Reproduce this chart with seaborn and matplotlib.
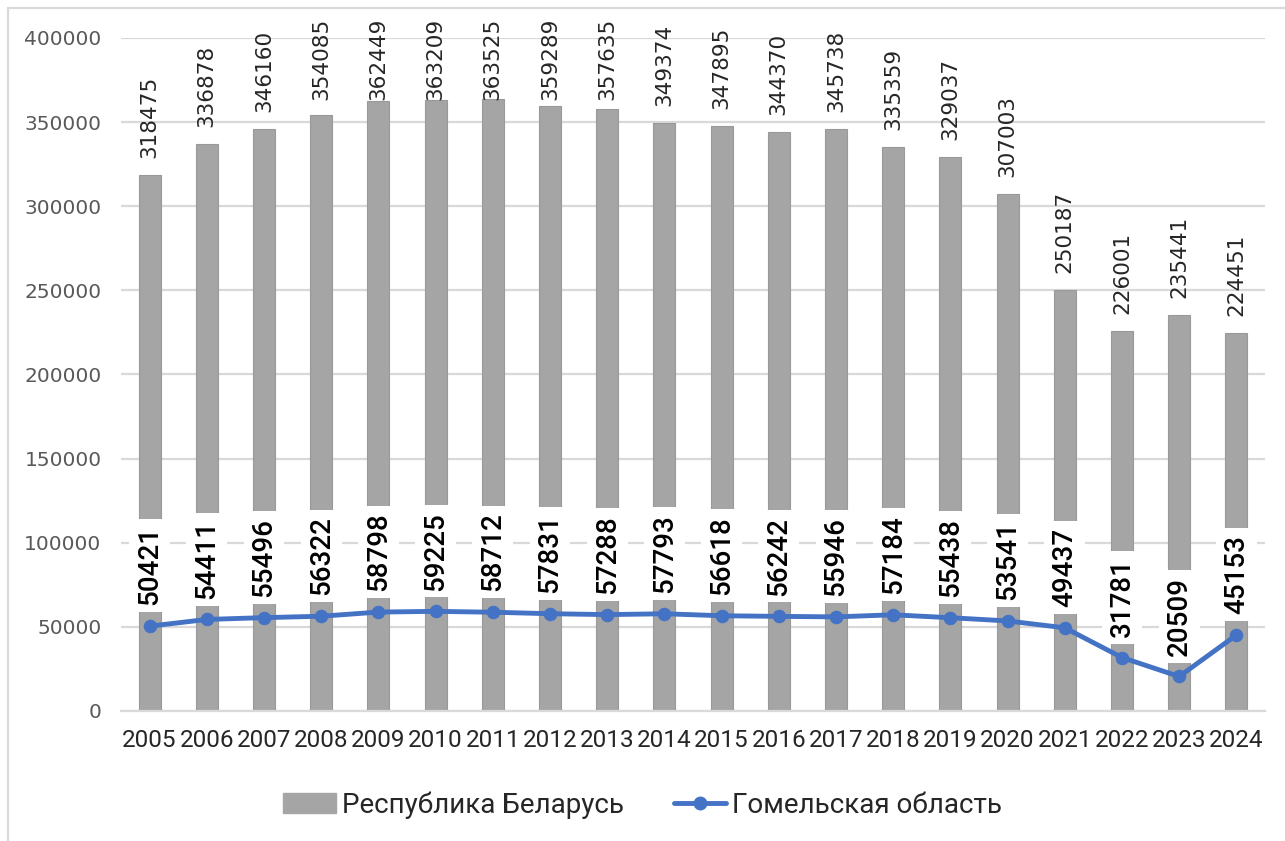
import matplotlib
matplotlib.use('Agg')
import matplotlib.pyplot as plt
import seaborn as sns
import numpy as np
from matplotlib.lines import Line2D
from matplotlib.patches import Patch

# data
years = ['2005', '2006', '2007', '2008', '2009', '2010', '2011', '2012', '2013', '2014',
         '2015', '2016', '2017', '2018', '2019', '2020', '2021', '2022', '2023', '2024']
belarus = [318475, 336878, 346160, 354085, 362449, 363209, 363525, 359289, 357635, 349374,
           347895, 344370, 345738, 335359, 329037, 307003, 250187, 226001, 235441, 224451]
gomel = [50421, 54411, 55496, 56322, 58798, 59225, 58712, 57831, 57288, 57793,
         56618, 56242, 55946, 57184, 55438, 53541, 49437, 31781, 20509, 45153]
names = ['Республика Беларусь', 'Гомельская область']

bar_color = '#A5A5A5'
line_color = '#4472C4'
grid_color = '#D9D9D9'

sns.set_style('white')
fig = plt.figure(figsize=(12.85, 8.41), dpi=100)
ax = fig.add_axes([121/1285, 1 - 711/841, (1265-121)/1285, (711-38)/841])

sns.barplot(x=years, y=belarus, color=bar_color, width=0.385, saturation=1,
            edgecolor='#999999', linewidth=0.8, ax=ax, zorder=2)
sns.lineplot(x=np.arange(len(years)), y=gomel, color=line_color, linewidth=3.5,
             marker='o', markersize=9, markeredgecolor=line_color, ax=ax, zorder=5)

ax.set_ylim(0, 400000)
ax.set_xlim(-0.5, len(years) - 0.5)
ax.set_yticks(range(0, 400001, 50000))
ax.grid(axis='y', color=grid_color, linewidth=1.6, zorder=0)
ax.set_axisbelow(True)
for s in ['top', 'right', 'left']:
    ax.spines[s].set_visible(False)
ax.spines['bottom'].set_color(grid_color)
ax.spines['bottom'].set_linewidth(1.6)
ax.tick_params(axis='both', length=0)
ax.tick_params(axis='y', pad=14, labelsize=14.5, labelcolor='#595959')
ax.tick_params(axis='x', pad=13, labelsize=17.5, labelcolor='#262626')
for t in ax.get_xticklabels():
    t.set_fontfamily('Roboto')
ax.set_xlabel('')
ax.set_ylabel('')

# bar labels (pushed down where they would leave the chart)
for i, v in enumerate(belarus):
    y = min(v + 10100, 363300)
    ax.text(i, y, str(v), rotation=90, ha='center', va='bottom', fontsize=15.5,
            color='#262626', zorder=3, clip_on=False)

# line labels with white boxes
for i, v in enumerate(gomel):
    ax.annotate(str(v), (i, v), xytext=(0, 15), textcoords='offset points',
                rotation=90, ha='center', va='bottom', fontsize=20, family='Roboto',
                fontweight='medium', color='#000000', zorder=4,
                bbox=dict(boxstyle='square,pad=0.25', fc='white', ec='none'))

handles = [Patch(facecolor=bar_color, edgecolor=bar_color),
           Line2D([], [], color=line_color, linewidth=3.5, marker='o', markersize=9)]
fig.legend(handles, names, loc='center', bbox_to_anchor=(0.5, 1 - 805/841), ncol=2,
           frameon=False, prop={'family': 'Roboto', 'size': 20}, handlelength=1.9,
           handletextpad=0.2, columnspacing=1.8)

# chart border (top and left edge visible)
fig.add_artist(Line2D([8/1285, 1], [1 - 8/841, 1 - 8/841], color=grid_color, linewidth=1.6))
fig.add_artist(Line2D([8/1285, 8/1285], [0, 1 - 8/841], color=grid_color, linewidth=1.6))

fig.savefig('out.png', dpi=100)
